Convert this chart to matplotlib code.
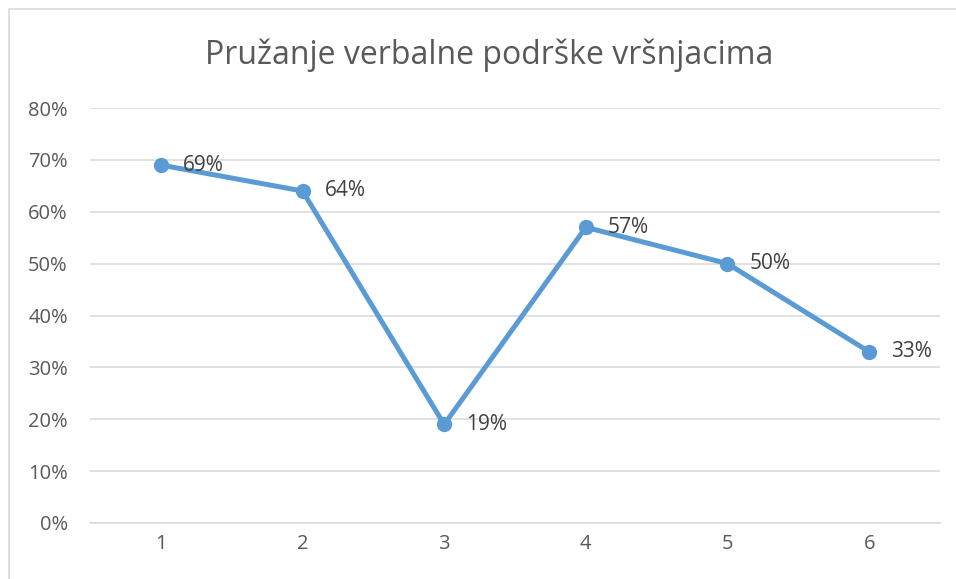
import matplotlib
matplotlib.use("Agg")
import matplotlib.pyplot as plt
from matplotlib.patches import Rectangle
from matplotlib.ticker import PercentFormatter

categories = ["1", "2", "3", "4", "5", "6"]
values = [0.69, 0.64, 0.19, 0.57, 0.50, 0.33]
yticks = [0, 0.1, 0.2, 0.3, 0.4, 0.5, 0.6, 0.7, 0.8]
title = "Pružanje verbalne podrške vršnjacima"

plt.rcParams['font.family'] = ['Open Sans', 'DejaVu Sans']
text_color = "#595959"
label_color = "#404040"

fig = plt.figure(figsize=(9.56, 5.79), dpi=100)
# chart frame (cropped at right/bottom)
fig.patches.append(Rectangle((9/956, -0.1), 1.2, (579-9)/579 + 0.1, transform=fig.transFigure,
                             fill=False, edgecolor="#D9D9D9", linewidth=1.2))

ax = fig.add_axes([90/956, 1 - 523/579, (940-90)/956, (523-108)/579])
x = list(range(1, len(categories) + 1))
ax.plot(x, values, color="#5B9BD5", linewidth=3.6, marker="o", markersize=10,
        solid_capstyle="round", zorder=3)
for xi, v in zip(x, values):
    ax.annotate(f"{round(v*100)}%", (xi, v), xytext=(16, 0), textcoords="offset points",
                va="center", ha="left", fontsize=15, color=label_color, zorder=4)

ax.set_xlim(0.5, len(categories) + 0.5)
ax.set_ylim(0, 0.8)
ax.set_xticks(x)
ax.set_xticklabels(categories)
ax.set_yticks(yticks)
ax.yaxis.set_major_formatter(PercentFormatter(1.0, decimals=0))
ax.grid(axis="y", color="#D9D9D9", linewidth=1.1)
ax.set_axisbelow(True)
for s in ["top", "right", "left"]:
    ax.spines[s].set_visible(False)
ax.spines["bottom"].set_color("#D9D9D9")
ax.spines["bottom"].set_linewidth(1.1)
ax.tick_params(axis="both", length=0, labelsize=14.5, colors=text_color)
ax.tick_params(axis="y", pad=16)
ax.tick_params(axis="x", pad=8)

fig.text(489/956, 1 - 55/579, title, ha="center", va="center", fontsize=23, color=text_color)

fig.savefig("out.png", dpi=100)
